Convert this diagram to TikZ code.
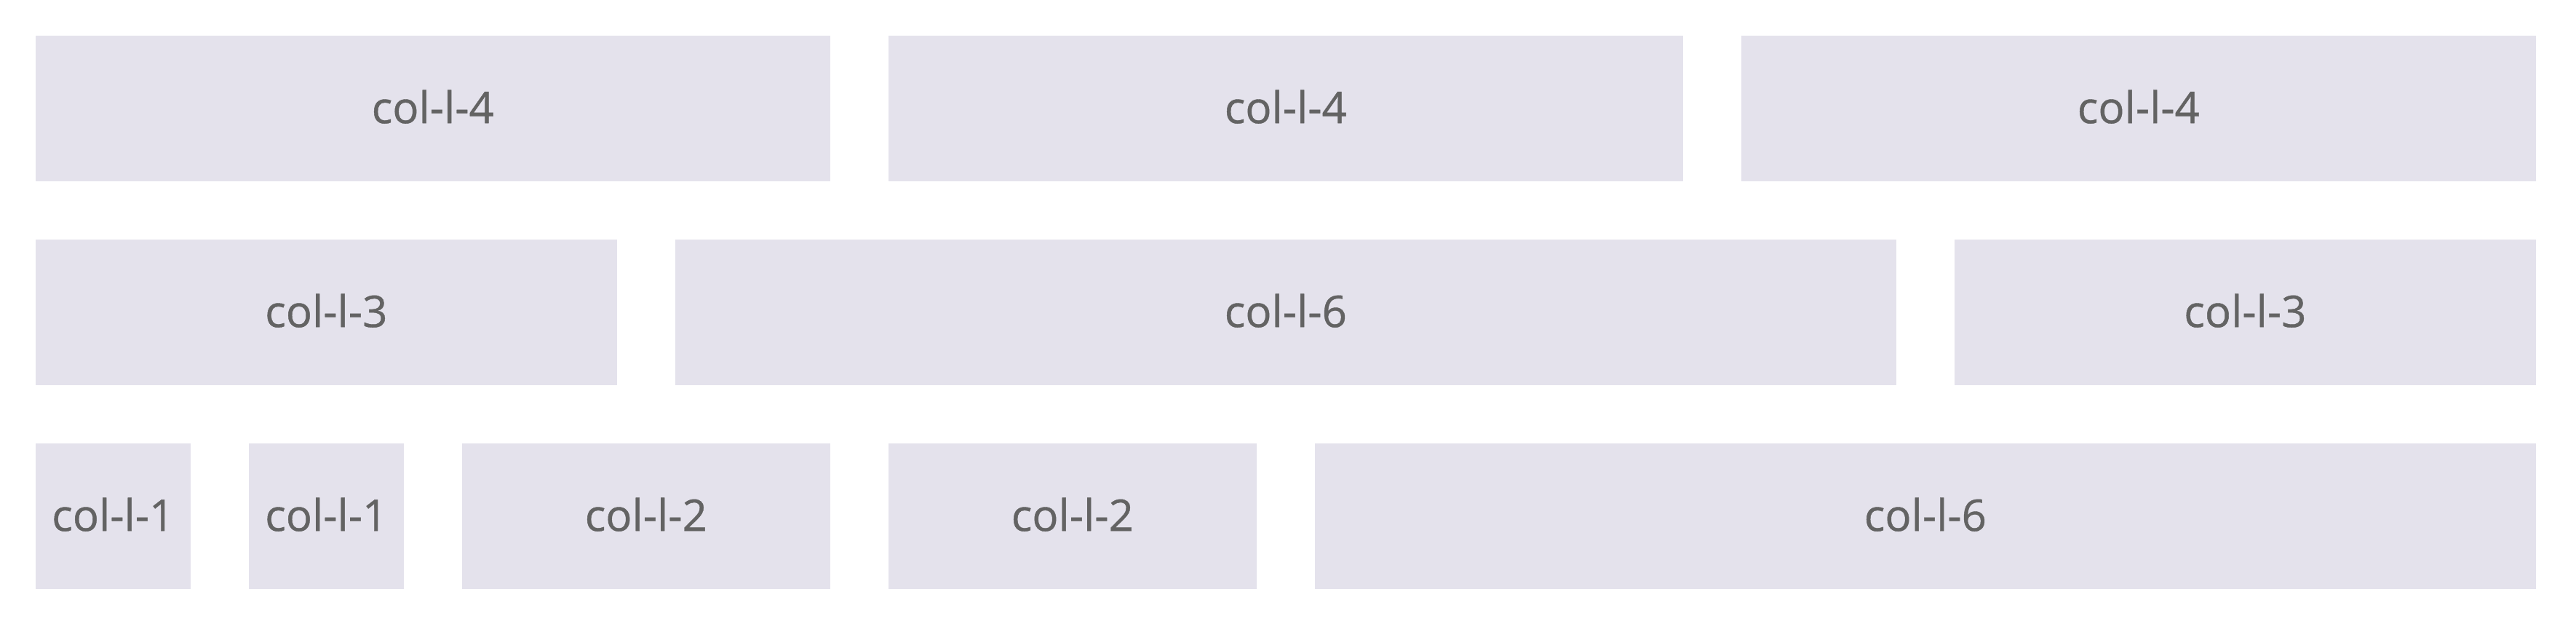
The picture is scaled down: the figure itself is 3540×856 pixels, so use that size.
\documentclass[tikz,border=0pt]{standalone}
\usepackage{fontspec}
\newfontfamily\cellfont{Open Sans}[FakeBold=0.7]
\usepackage{tikz}
\definecolor{cellfill}{HTML}{E4E2EC}
\definecolor{celltext}{HTML}{636363}
\tikzset{
    gridcell/.style={fill=cellfill, text=celltext, inner sep=0pt, anchor=north west,
        minimum height=50pt, text depth=1.2pt, font=\cellfont\fontsize{15}{18}\selectfont}
}

\begin{document}
\begin{tikzpicture}[x=0.25pt,y=-0.25pt]
    \useasboundingbox (0,0) rectangle (3540,856);

    % Row 1: three 4-column cells
    \foreach \first/\cols/\name in {0/4/a,4/4/b,8/4/c} {
        \pgfmathsetmacro\cellw{(\cols*293-80)*0.25}
        \node[gridcell, minimum width=\cellw pt] (top-\name) at ({48+\first*293},48) {col-l-\cols};
    }

    % Row 2: 3 + 6 + 3
    \foreach \first/\cols/\name in {0/3/a,3/6/b,9/3/c} {
        \pgfmathsetmacro\cellw{(\cols*293-80)*0.25}
        \node[gridcell, minimum width=\cellw pt] (mid-\name) at ({48+\first*293},328) {col-l-\cols};
    }

    % Row 3: 1 + 1 + 2 + 2 + 6
    \foreach \first/\cols/\name in {0/1/a,1/1/b,2/2/c,4/2/d,6/6/e} {
        \pgfmathsetmacro\cellw{(\cols*293-80)*0.25}
        \node[gridcell, minimum width=\cellw pt] (low-\name) at ({48+\first*293},608) {col-l-\cols};
    }
\end{tikzpicture}
\end{document}
